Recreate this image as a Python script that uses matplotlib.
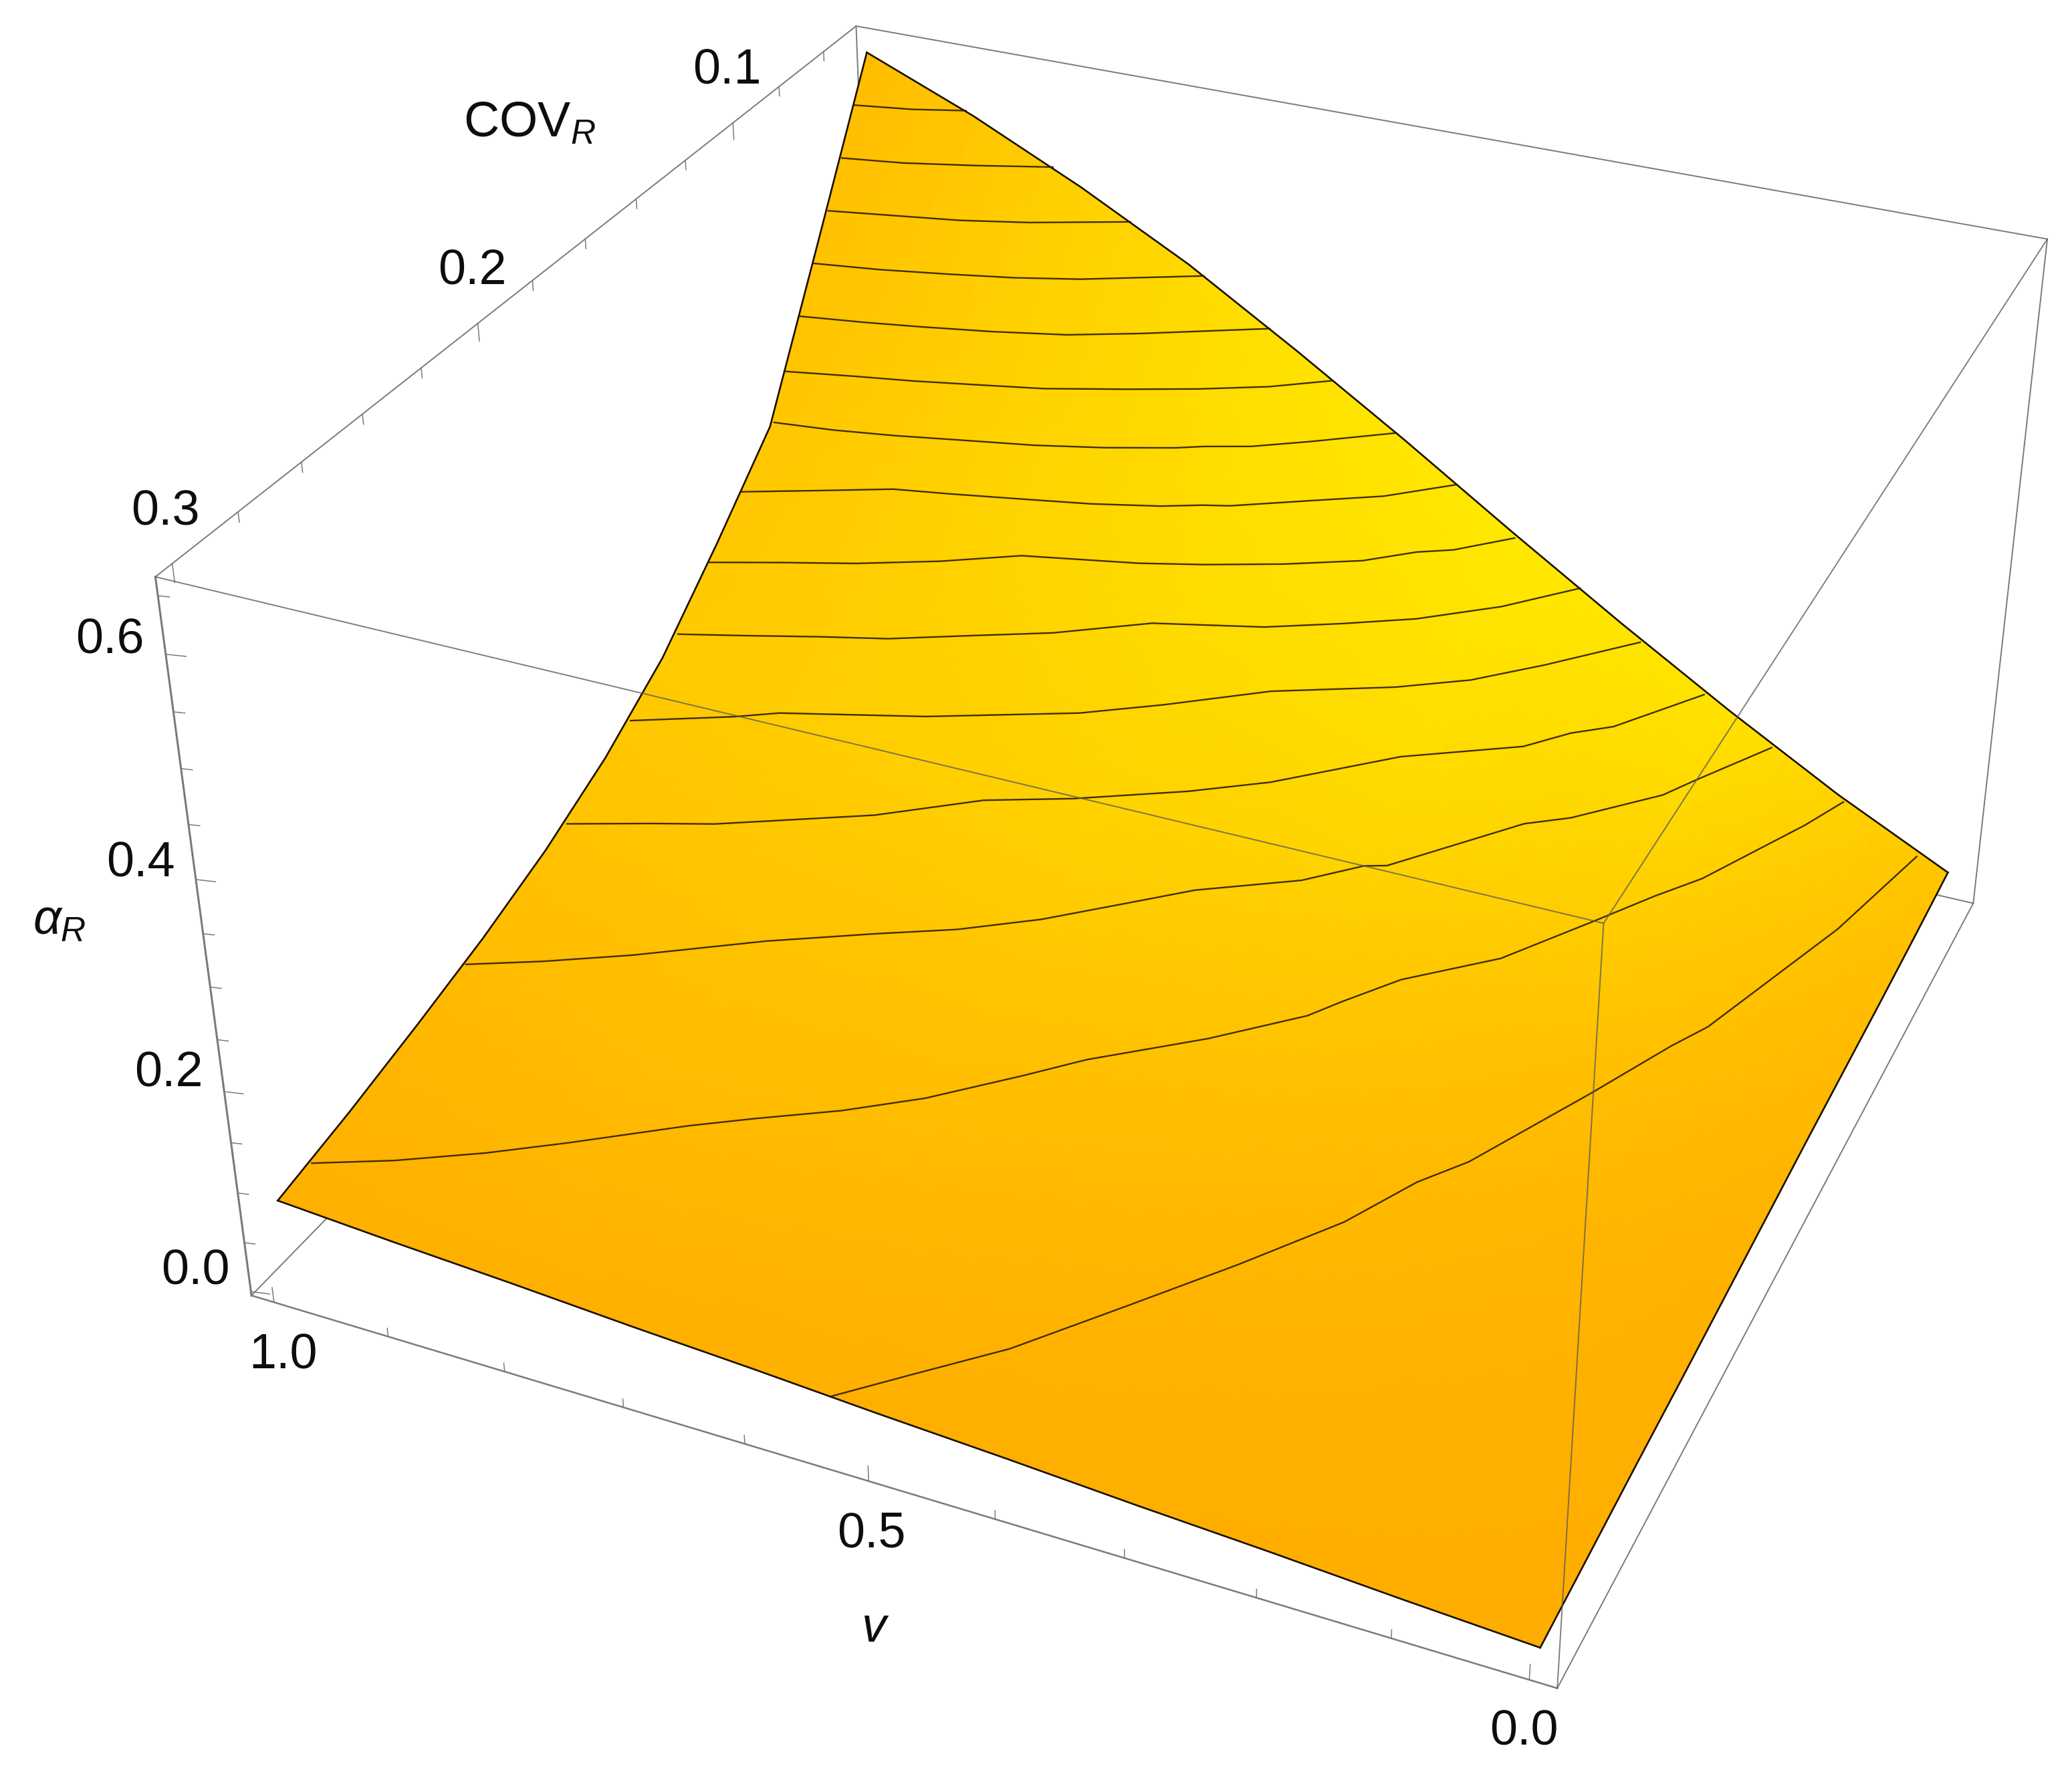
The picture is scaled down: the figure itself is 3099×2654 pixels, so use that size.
import numpy as np
import matplotlib
matplotlib.use("Agg")
import matplotlib.pyplot as plt

plt.rcParams["font.family"] = ["Liberation Sans", "DejaVu Sans"]
plt.rcParams["mathtext.fontset"] = "custom"
plt.rcParams["mathtext.rm"] = "Liberation Sans"
plt.rcParams["mathtext.it"] = "Liberation Sans:italic"

# grid of the surface
v_grid = [0.0, 0.1, 0.2, 0.3, 0.4, 0.5, 0.6, 0.7, 0.8, 0.9, 1.0]
cov_grid = [0.05, 0.075, 0.1, 0.125, 0.15, 0.175, 0.2, 0.225, 0.25, 0.275, 0.3]
alpha_r = [
    [0.037, 0.093, 0.156, 0.223, 0.293, 0.365, 0.434, 0.500, 0.557, 0.608, 0.652],
    [0.033, 0.077, 0.125, 0.177, 0.230, 0.283, 0.335, 0.385, 0.432, 0.475, 0.509],
    [0.030, 0.063, 0.098, 0.136, 0.177, 0.217, 0.255, 0.291, 0.327, 0.362, 0.368],
    [0.028, 0.052, 0.078, 0.106, 0.137, 0.168, 0.198, 0.226, 0.253, 0.281, 0.301],
    [0.026, 0.043, 0.063, 0.085, 0.108, 0.132, 0.156, 0.179, 0.201, 0.223, 0.239],
    [0.023, 0.037, 0.052, 0.071, 0.088, 0.107, 0.126, 0.145, 0.163, 0.182, 0.195],
    [0.020, 0.032, 0.044, 0.059, 0.074, 0.088, 0.104, 0.120, 0.135, 0.150, 0.162],
    [0.017, 0.029, 0.038, 0.049, 0.063, 0.076, 0.087, 0.100, 0.114, 0.126, 0.137],
    [0.015, 0.024, 0.034, 0.043, 0.053, 0.065, 0.076, 0.085, 0.095, 0.107, 0.117],
    [0.012, 0.020, 0.029, 0.037, 0.045, 0.055, 0.065, 0.073, 0.081, 0.090, 0.099],
    [0.009, 0.016, 0.024, 0.031, 0.039, 0.046, 0.054, 0.061, 0.069, 0.076, 0.084],
]

# green channel of the orange/yellow shading, red is 255 and blue 0
shade_v = [0.0, 0.2, 0.4, 0.6, 0.8, 1.0]
shade_cov = [0.05, 0.1, 0.15, 0.2, 0.25, 0.3]
shade_g = [
    [197, 226, 232, 225, 208, 188],
    [188, 208, 220, 219, 210, 198],
    [182, 193, 203, 208, 206, 202],
    [177, 184, 190, 194, 195, 193],
    [175, 178, 181, 184, 186, 183],
    [173, 174, 175, 175, 176, 176],
]

# mesh lines, equal steps of alpha_R. v and COV in thousandths
levels = [0.0492, 0.0894, 0.1296, 0.1698, 0.2100, 0.2502, 0.2904, 0.3306,
          0.3708, 0.4110, 0.4512, 0.4914, 0.5316, 0.5718, 0.6120]
mesh_v = [
    [539, 498, 445, 390, 333, 280, 248, 221, 166, 128, 110, 56, 27],
    [998, 943, 885, 835, 762, 721, 665, 614, 559, 522, 447, 388, 371, 339, 277, 227, 193, 166, 113, 94],
    [999, 946, 886, 799, 725, 668, 613, 561, 518, 445, 407, 390, 310, 278, 220, 203, 160],
    [998, 936, 889, 777, 706, 640, 559, 503, 420, 333, 304, 275, 222],
    [998, 923, 892, 779, 666, 608, 535, 443, 390, 342, 281],
    [998, 947, 888, 835, 775, 714, 645, 557, 499, 446, 388, 338],
    [999, 944, 886, 823, 765, 670, 619, 558, 500, 464, 437, 397],
    [999, 941, 884, 836, 778, 721, 666, 634, 613, 554, 501, 452],
    [998, 946, 894, 837, 779, 723, 668, 647, 611, 569, 508],
    [998, 939, 891, 837, 784, 718, 665, 612, 567],
    [999, 943, 895, 837, 777, 720, 625],
    [999, 942, 884, 831, 779, 686],
    [998, 935, 888, 832, 754],
    [998, 946, 888, 826],
    [999, 950, 907],
]
mesh_cov = [
    [300, 289, 275, 256, 236, 216, 199, 189, 159, 137, 128, 84, 51],
    [289, 282, 273, 264, 250, 243, 234, 224, 210, 200, 184, 169, 162, 150, 135, 115, 101, 91, 63, 51],
    [232, 225, 216, 201, 190, 182, 172, 160, 150, 138, 128, 126, 100, 94, 78, 70, 51],
    [192, 185, 180, 164, 150, 142, 130, 120, 100, 86, 77, 71, 51],
    [165, 155, 150, 139, 125, 115, 101, 89, 80, 68, 51],
    [144, 139, 133, 128, 120, 112, 100, 92, 84, 76, 64, 50],
    [129, 123, 117, 109, 100, 93, 88, 81, 73, 65, 61, 51],
    [114, 107, 100, 97, 93, 89, 84, 80, 78, 69, 61, 50],
    [99, 97, 94, 90, 86, 81, 75, 72, 68, 61, 50],
    [93, 89, 86, 82, 78, 71, 65, 58, 50],
    [85, 82, 79, 75, 70, 63, 50],
    [78, 75, 71, 67, 62, 50],
    [71, 67, 64, 59, 50],
    [64, 61, 56, 50],
    [57, 54, 50],
]

# ticks
v_ticks = [0.0, 0.1, 0.2, 0.3, 0.4, 0.5, 0.6, 0.7, 0.8, 0.9, 1.0]
v_major = [0.0, 0.5, 1.0]
cov_ticks = [0.06, 0.08, 0.1, 0.12, 0.14, 0.16, 0.18, 0.2, 0.22, 0.24, 0.26, 0.28, 0.3]
cov_major = [0.1, 0.2, 0.3]
z_ticks = [0.0, 0.05, 0.1, 0.15, 0.2, 0.25, 0.3, 0.35, 0.4, 0.45, 0.5, 0.55, 0.6, 0.65]
z_major = [0.0, 0.2, 0.4, 0.6]

W, H = 3099, 2654
v0, v1 = -0.02, 1.02
c0, c1 = 0.045, 0.305
z0, z1 = -0.004, 0.666

fig = plt.figure(figsize=(W / 100, H / 100), dpi=100)

# axes placed so the box lands where it is in the reference
scale, tx, ty = 16396.13, 1742.34, 1134.20
side = 0.185 * scale
left = tx - 0.095 * scale
bottom = H - (ty + 0.095 * scale)
ax = fig.add_axes([left / W, bottom / H, side / W, side / H], projection="3d", computed_zorder=False)
ax.set_xlim(v0, v1)
ax.set_ylim(c0, c1)
ax.set_zlim(z0, z1)
ax.view_init(elev=31.9139, azim=113.9259, roll=0.0122)
ax.set_proj_type("persp", focal_length=0.4194)
ax.set_box_aspect((1, 1.0014, 0.5972), zoom=1)
ax.set_axis_off()


def refine(xs, ys, table, fine_x, fine_y):
    # bilinear, only to get a smooth colour ramp over the same planar cells
    table = np.array(table, float)
    rows = np.array([np.interp(fine_x, xs, r) for r in table])
    return np.array([np.interp(fine_y, ys, rows[:, i]) for i in range(len(fine_x))]).T


fine_v = np.linspace(0, 1, 81)
fine_cov = np.linspace(0.05, 0.3, 81)
V, C = np.meshgrid(fine_v, fine_cov)
Z = refine(v_grid, cov_grid, alpha_r, fine_v, fine_cov)
G = refine(shade_v, shade_cov, shade_g, fine_v, fine_cov)
colors = np.zeros(Z.shape + (4,))
colors[..., 0] = 1.0
colors[..., 1] = G / 255
colors[..., 3] = 1.0

box_col = "#7a7a7a"
box_kw = dict(color=box_col, lw=1.4, clip_on=False, zorder=1)


def edge(a, b, **kw):
    ax.plot([a[0], b[0]], [a[1], b[1]], [a[2], b[2]], **kw)


# hidden or back edges first
edge((v1, c1, z1), (v1, c0, z1), **box_kw)
edge((v1, c0, z1), (v0, c0, z1), **box_kw)
edge((v0, c0, z1), (v0, c0, z0), **box_kw)
edge((v1, c1, z0), (v1, c0, z0), **box_kw)
edge((v1, c0, z0), (v0, c0, z0), **box_kw)
edge((v1, c0, z1), (v1, c0, z0), **box_kw)
edge((v0, c0, z0), (v0, c1, z0), **box_kw)
edge((v0, c1, z0), (v1, c1, z0), color=box_col, lw=1.8, clip_on=False, zorder=1)
edge((v1, c1, z0), (v1, c1, z1), color=box_col, lw=2.2, clip_on=False, zorder=1)

# ticks
tick_kw = dict(color=box_col, lw=1.1, clip_on=False, zorder=1)
for t in v_ticks:
    dz = 0.0152 if t in v_major else 0.0085
    edge((t, c1, z0), (t, c1, z0 + dz), **tick_kw)
for t in cov_ticks:
    dz = 0.016 if t in cov_major else 0.009
    edge((v1, t, z1), (v1, t, z1 - dz), **tick_kw)
for t in z_ticks:
    k = 1.0 if t in z_major else 0.57
    edge((v1, c1, t), (v1 - 0.0143 * k, c1 - 0.0008 * k, t), **tick_kw)

ax.plot_surface(V, C, Z, facecolors=colors, rstride=1, cstride=1, shade=False,
                linewidth=0, antialiased=False, zorder=2)

# outline of the surface
Z_arr = np.array(alpha_r)
out_kw = dict(color="#1a0f00", lw=1.9, zorder=3, solid_joinstyle="round")
ax.plot(v_grid, [0.05] * 11, Z_arr[0], **out_kw)
ax.plot(v_grid, [0.3] * 11, Z_arr[-1], **out_kw)
ax.plot([0.0] * 11, cov_grid, Z_arr[:, 0], **out_kw)
ax.plot([1.0] * 11, cov_grid, Z_arr[:, -1], **out_kw)

# mesh lines
for lev, mv, mc in zip(levels, mesh_v, mesh_cov):
    ax.plot(np.array(mv) / 1000, np.array(mc) / 1000, [lev] * len(mv),
            color="#2e1c00", lw=1.7, alpha=0.9, zorder=3)

# box edges in front of the surface
front_kw = dict(color="#595959", lw=1.4, alpha=0.77, clip_on=False, zorder=4)
edge((v1, c1, z1), (v0, c1, z1), **front_kw)
edge((v0, c0, z1), (v0, c1, z1), **front_kw)
edge((v0, c1, z1), (v0, c1, z0), **front_kw)


def label(x, y, s, size=53):
    fig.text(x / W, 1 - y / H, s, ha="center", va="center", fontsize=size, color="#0d0d0d")


label(1087, 106, "0.1")
label(706, 406, "0.2")
label(247, 766, "0.3")
label(792, 185, r"COV$_{R}$")
label(164, 958, "0.6")
label(210, 1292, "0.4")
label(252, 1606, "0.2")
label(292, 1902, "0.0")
label(89, 1378, r"$\alpha_{R}$")
label(424, 2028, "1.0")
label(1303, 2295, "0.5")
label(2279, 2591, "0.0")
label(1309, 2437, r"$v$")

fig.savefig("out.png", dpi=100)
